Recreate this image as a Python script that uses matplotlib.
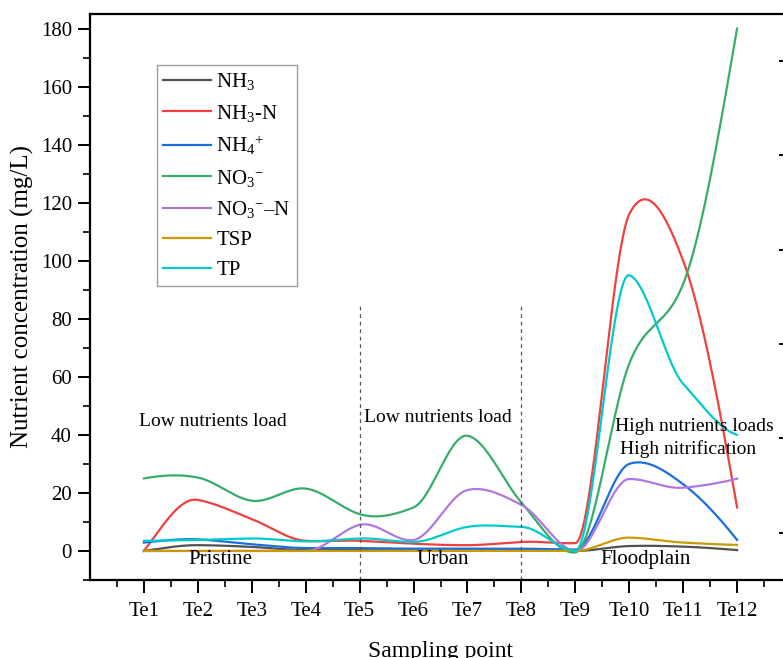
import numpy as np
import matplotlib
matplotlib.use("Agg")
import matplotlib.pyplot as plt
from matplotlib.ticker import FixedLocator

plt.rcParams['font.family'] = ['Liberation Serif', 'DejaVu Serif']
plt.rcParams['mathtext.fontset'] = 'custom'
plt.rcParams['mathtext.rm'] = 'Liberation Serif'
plt.rcParams['mathtext.it'] = 'Liberation Serif:italic'
plt.rcParams['mathtext.bf'] = 'Liberation Serif:bold'

# ---------------- data ----------------
sites = ['Te1', 'Te2', 'Te3', 'Te4', 'Te5', 'Te6', 'Te7', 'Te8', 'Te9', 'Te10', 'Te11', 'Te12']
nh3 = [0.0, 2.0, 1.4, 0.3, 0.3, 0.2, 0.2, 0.3, 0.0, 1.7, 1.5, 0.3]
nh3_n = [0.0, 17.6, 11.0, 3.5, 3.5, 2.5, 2.0, 3.1, 2.7, 116.0, 100.0, 15.0]
nh4 = [2.9, 4.0, 2.3, 1.0, 1.0, 0.8, 0.8, 0.8, 0.5, 30.0, 23.0, 3.8]
no3 = [25.0, 25.3, 17.3, 21.5, 12.7, 15.0, 39.7, 16.7, -0.5, 64.5, 92.0, 180.0]
no3_n = [0.0, 0.0, 0.0, 0.0, 9.0, 3.8, 21.0, 15.9, 0.0, 24.8, 21.8, 24.9]
tsp = [0.0, 0.0, 0.0, 0.0, 0.0, 0.0, 0.0, 0.0, 0.0, 4.6, 2.9, 2.1]
tp = [3.5, 3.8, 4.3, 3.3, 4.3, 3.1, 8.3, 8.3, 0.0, 95.0, 57.6, 40.0]

series_labels = [r'NH$_3$', r'NH$_3$-N', r'NH$_4$$^{+}$', r'NO$_3$$^{-}$', r'NO$_3$$^{-}$–N', 'TSP', 'TP']
series_values = [nh3, nh3_n, nh4, no3, no3_n, tsp, tp]
colors = ['#515151', '#F14040', '#1A6FDF', '#37AD6B', '#B177DE', '#CC9900', '#00CBCC']

zone_bounds = [5, 8]
zone_names = ['Pristine', 'Urban', 'Floodplain']
zone_name_x = [2.42, 6.55, 10.3]
notes = ['Low nutrients load', 'Low nutrients load', 'High nutrients loads', 'High nitrification']


def makima(x, y, xs):
    x = np.asarray(x, float)
    y = np.asarray(y, float)
    n = len(x)
    m = np.diff(y) / np.diff(x)
    mm = np.empty(n + 3)
    mm[2:-2] = m
    mm[1] = 2 * m[0] - m[1]
    mm[0] = 2 * mm[1] - m[0]
    mm[-2] = 2 * m[-1] - m[-2]
    mm[-1] = 2 * mm[-2] - m[-1]
    t = np.empty(n)
    for i in range(n):
        w1 = abs(mm[i + 3] - mm[i + 2]) + abs(mm[i + 3] + mm[i + 2]) / 2
        w2 = abs(mm[i + 1] - mm[i]) + abs(mm[i + 1] + mm[i]) / 2
        if w1 + w2 == 0:
            t[i] = 0.5 * (mm[i + 1] + mm[i + 2])
        else:
            t[i] = (w1 * mm[i + 1] + w2 * mm[i + 2]) / (w1 + w2)
    idx = np.clip(np.searchsorted(x, xs) - 1, 0, n - 2)
    h = x[idx + 1] - x[idx]
    s = (xs - x[idx]) / h
    h00 = 2 * s**3 - 3 * s**2 + 1
    h10 = s**3 - 2 * s**2 + s
    h01 = -2 * s**3 + 3 * s**2
    h11 = s**3 - s**2
    return h00 * y[idx] + h10 * h * t[idx] + h01 * y[idx + 1] + h11 * h * t[idx + 1]


W, H = 783, 658
fig = plt.figure(figsize=(W / 100, H / 100), dpi=100)
L, R, T, B = 90, 791, 14, 580
ax = fig.add_axes([L / W, 1 - B / H, (R - L) / W, (B - T) / H])

xpos = np.arange(1, len(sites) + 1)
xs = np.linspace(1, len(sites), 600)
for lab, vals, c in zip(series_labels, series_values, colors):
    ax.plot(xs, makima(xpos, vals, xs), color=c, lw=1.6, label=lab)

ax.set_xlim(0, 13)
ax.set_ylim(-10, 185)

for xb in zone_bounds:
    ax.plot([xb, xb], [-10, 85], color='#555555', lw=0.9, ls=(0, (3, 3)))

ax.set_xticks(xpos)
ax.set_xticklabels(sites)
ax.xaxis.set_minor_locator(FixedLocator(np.arange(0.5, 13, 1.0)))
ax.set_yticks(np.arange(0, 181, 20))
ax.yaxis.set_minor_locator(FixedLocator(np.arange(-10, 185, 10)))

ax.tick_params(axis='both', which='major', direction='out', length=9, width=1.4, labelsize=15, pad=4)
ax.tick_params(axis='both', which='minor', direction='out', length=5, width=1.2)
ax.tick_params(axis='x', which='major', pad=7)
for sp in ['left', 'bottom', 'top', 'right']:
    ax.spines[sp].set_linewidth(1.6)

# secondary (right) axis ticks
ax2 = ax.twinx()
ax2.set_ylim(-0.5, 5.5)
ax2.set_yticks(np.arange(0, 6))
ax2.set_yticklabels([])
ax2.tick_params(axis='y', direction='in', length=8.6, width=1.4)
for sp in ax2.spines.values():
    sp.set_visible(False)

ax.set_xlabel('Sampling point', fontsize=17, labelpad=14)
ax.set_ylabel('Nutrient concentration (mg/L)', fontsize=18, labelpad=5)

for xn, name in zip(zone_name_x, zone_names):
    ax.text(xn, -2.8, name, fontsize=15, ha='center', va='center')

ax.text(0.9, 44.5, notes[0], fontsize=14, ha='left', va='center')
ax.text(6.46, 46, notes[1], fontsize=14, ha='center', va='center')
ax.text(11.2, 43, notes[2], fontsize=14, ha='center', va='center')
ax.text(11.1, 35, notes[3], fontsize=14, ha='center', va='center')

leg = ax.legend(loc='upper left', bbox_to_anchor=((157 - L) / (R - L), (B - 65) / (B - T)),
                borderaxespad=0, fontsize=15, frameon=True, fancybox=False,
                handlelength=2.3, handletextpad=0.25, labelspacing=0.5, borderpad=0.3)
leg.get_frame().set_edgecolor('#888888')
leg.get_frame().set_linewidth(1.0)

fig.savefig('out.png', dpi=100)
